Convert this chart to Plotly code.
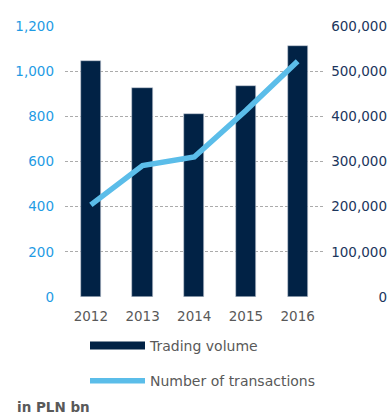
import plotly.graph_objects as go

# Annual data
years = ["2012", "2013", "2014", "2015", "2016"]
trading_volume = [1045, 925, 810, 934, 1112]          # PLN bn, left axis
transactions = [204000, 291000, 310000, 413000, 522000]  # count, right axis

left_ticks = [0, 200, 400, 600, 800, 1000, 1200]
right_ticks = [0, 100000, 200000, 300000, 400000, 500000, 600000]

NAVY = "#012245"
LIGHT_BLUE = "#5BBDE9"
GRAY_TEXT = "#595959"
W, H = 392, 416

# Plot area in pixels
TOP, BOTTOM = 26, 297
PAD = 12  # extra room on the secondary axis so its end labels stay visible

fig = go.Figure()

# Bars for trading volume (legend entry drawn by a proxy line below)
fig.add_trace(go.Bar(
    x=years, y=trading_volume, name="Trading volume",
    marker=dict(color=NAVY, line=dict(color="#C8CED6", width=0.6)),
    width=0.39, showlegend=False, yaxis="y",
))

# Legend proxy: a wide navy band
fig.add_trace(go.Scatter(
    x=[None], y=[None], mode="lines", name="Trading volume",
    line=dict(color=NAVY, width=8), legendgroup="a", yaxis="y",
))

# Number of transactions on the secondary axis
fig.add_trace(go.Scatter(
    x=years, y=transactions, mode="lines", name="Number of transactions",
    line=dict(color=LIGHT_BLUE, width=5.5), legendgroup="b", yaxis="y2",
))

per_px = right_ticks[-1] / (BOTTOM - TOP)

fig.update_layout(
    width=W, height=H,
    margin=dict(l=0, r=0, t=0, b=0, autoexpand=False),
    paper_bgcolor="white", plot_bgcolor="rgba(0,0,0,0)",
    font=dict(family="DejaVu Sans", size=13.5, color=GRAY_TEXT),
    bargap=0,
    xaxis=dict(
        type="category", range=[-0.5, 4.5],
        domain=[65 / W, 323.5 / W], automargin=False,
        showgrid=False, showline=False, zeroline=False, ticks="",
        tickfont=dict(family="DejaVu Sans", size=13.5, color=GRAY_TEXT),
        ticklabelstandoff=9,
    ),
    yaxis=dict(
        range=[0, 1200], tickvals=left_ticks,
        ticktext=[f"{v:,}" for v in left_ticks],
        domain=[1 - BOTTOM / H, 1 - TOP / H], automargin=False,
        showgrid=True, gridcolor="#ABABAB", griddash="3px,2px", gridwidth=1,
        zeroline=False, showline=False, ticks="",
        tickfont=dict(family="DejaVu Sans", size=13.5, color="#1F9BE4"),
        ticklabelstandoff=10,
    ),
    # Secondary axis: its own (slightly taller) domain, same scale as the left axis
    yaxis2=dict(
        side="right", anchor="free", position=390 / W,
        domain=[1 - (BOTTOM + PAD) / H, 1 - (TOP - PAD) / H],
        range=[-PAD * per_px, right_ticks[-1] + PAD * per_px],
        tickvals=right_ticks, ticktext=[f"{v:,}" for v in right_ticks],
        automargin=False,
        showgrid=False, zeroline=False, showline=False, ticks="",
        ticklabelposition="inside",
        tickfont=dict(family="DejaVu Sans", size=13.5, color="#1B365D"),
    ),
    legend=dict(
        x=85 / W, y=1 - 330 / H, xanchor="left", yanchor="top",
        orientation="v", traceorder="grouped", tracegroupgap=14,
        itemwidth=55, bgcolor="rgba(0,0,0,0)",
        font=dict(family="DejaVu Sans", size=14, color=GRAY_TEXT),
    ),
    annotations=[dict(
        text="<b>in PLN bn</b>", xref="paper", yref="paper",
        x=15 / W, y=1 - 407 / H, xanchor="left", yanchor="middle",
        showarrow=False,
        font=dict(family="DejaVu Sans", size=13.5, color=GRAY_TEXT),
    )],
)

fig.write_html("out.html")
